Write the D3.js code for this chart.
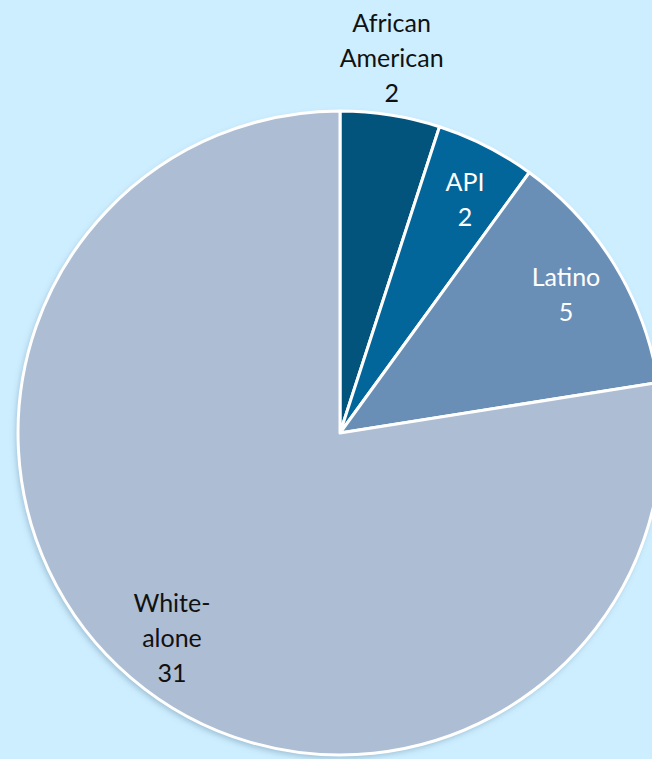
<!DOCTYPE html>
<html>
<head>
<meta charset="utf-8">
<script src="https://cdn.jsdelivr.net/npm/d3@7"></script>
<style>
  html, body { margin: 0; padding: 0; background: #cdeeff; }
  svg { display: block; }
</style>
</head>
<body>
<svg id="chart"></svg>
<script>
// chart data
var categories = ["African American", "API", "Latino", "White-alone"];
var values = [2, 2, 5, 31];
var labelLines = [["African", "American"], ["API"], ["Latino"], ["White-", "alone"]];
var colors = ["#03547c", "#02669a", "#6a8fb7", "#adbdd3"];
var textColors = ["#111111", "#ffffff", "#ffffff", "#111111"];

w = 652;
h = 759;
cx = 340;   // pie centre
cy = 433;
radius = 322;

var svg = d3.select('#chart').attr('width', w).attr('height', h);

svg.append('rect')
    .attr('width', w)
    .attr('height', h)
    .attr('fill', '#cdeeff');

var pie = d3.pie().sort(null).value(function(d) { return d; });
var arcs = pie(values);

var arc = d3.arc().innerRadius(0).outerRadius(radius);

var g = svg.append('g').attr('transform', 'translate(' + cx + ',' + cy + ')');

// soft shadow under the pie
var defs = svg.append('defs');
var f = defs.append('filter').attr('id', 'shadow')
    .attr('x', '-10%').attr('y', '-10%').attr('width', '120%').attr('height', '120%');
f.append('feDropShadow')
    .attr('dx', -2).attr('dy', 3).attr('stdDeviation', 3)
    .attr('flood-color', '#5a7f99').attr('flood-opacity', 0.45);

g.append('circle')
    .attr('r', radius)
    .attr('fill', '#adbdd3')
    .attr('filter', 'url(#shadow)');

g.selectAll('path.slice')
    .data(arcs)
    .enter()
    .append('path')
    .attr('class', 'slice')
    .attr('d', arc)
    .attr('fill', function(d, i) { return colors[i]; })
    .attr('stroke', '#ffffff')
    .attr('stroke-width', 3)
    .attr('stroke-linejoin', 'round');

// labels: the tiny first slice gets its label outside the pie
function labelRadius(i) { return i == 0 ? 378 : 265; }
function labelAngle(i, mid) {
  var nudge = [-0.02, 0.02, 0, -0.02];
  return mid + nudge[i];
}

var lineH = 35;
arcs.forEach(function(d, i) {
  var mid = labelAngle(i, (d.startAngle + d.endAngle) / 2);
  var r = labelRadius(i);
  var x = Math.sin(mid) * r;
  var y = -Math.cos(mid) * r;
  var lines = labelLines[i].concat([String(values[i])]);
  var top = y - (lines.length - 1) * lineH / 2;
  var t = g.append('text')
      .attr('text-anchor', 'middle')
      .attr('font-family', 'Lato, "Open Sans", sans-serif')
      .attr('font-size', 25)
      .attr('fill', textColors[i]);
  lines.forEach(function(s, k) {
    t.append('tspan')
        .attr('x', x)
        .attr('y', top + k * lineH)
        .attr('dy', '0.35em')
        .text(s);
  });
});
</script>
</body>
</html>
